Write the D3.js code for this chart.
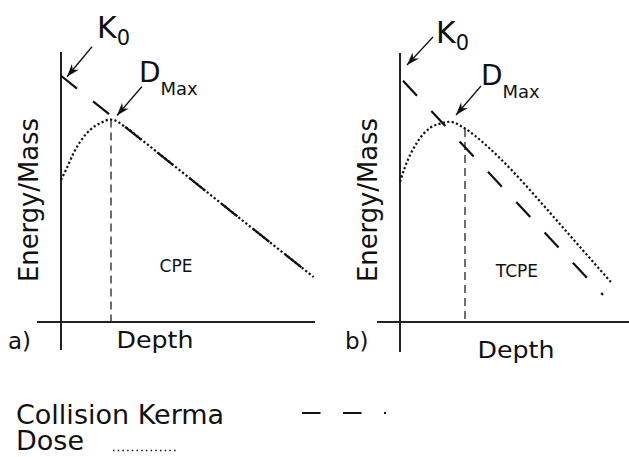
<!DOCTYPE html>
<html>
<head>
<meta charset="utf-8">
<script src="https://cdn.jsdelivr.net/npm/d3@7"></script>
<style>
  body { margin: 0; background: #fff; }
  text { font-family: "DejaVu Sans", sans-serif; fill: #111; }
</style>
</head>
<body>
<div id="graph"></div>
<script>
// depth / energy-per-mass values (arbitrary units)
const depthA = [0, 0.23, 0.5, 0.76, 1.16, 1.56, 2.0, 2.63, 3.3, 3.9, 5, 6, 7, 8, 9, 10.1];
const doseA  = [5.68, 6.15, 6.75, 7.2, 7.68, 7.95, 8.1, 7.76, 7.23, 6.75, 5.87, 5.07, 4.27, 3.47, 2.68, 1.8];
const kermaDepthA = [0, 10.1];
const kermaA      = [9.85, 1.8];

const depthB = [0, 0.2, 0.67, 1.2, 1.67, 2.0, 2.5, 3.0, 3.5, 4.0, 4.5, 5.0, 5.5, 6.0, 6.5, 7.0, 7.5, 8.0, 8.47];
const doseB  = [5.6, 6.2, 7.16, 7.76, 7.95, 8.01, 7.8, 7.45, 7.02, 6.55, 6.04, 5.5, 4.94, 4.37, 3.8, 3.23, 2.66, 2.09, 1.56];
const kermaDepthB = [0, 8.12];
const kermaB      = [9.78, 1.08];

const dmaxDepth = [2.0, 2.6];
const dmaxDose  = [8.1, 7.72];

const panelLabels = ["a)", "b)"];
const regionLabels = ["CPE", "TCPE"];
const legendLabels = ["Collision Kerma", "Dose"];

const W = 629, H = 457;

const svg = d3.select("#graph")
    .append("svg")
        .attr("width", W)
        .attr("height", H);

svg.append("defs").append("marker")
    .attr("id", "head")
    .attr("markerUnits", "userSpaceOnUse")
    .attr("viewBox", "-14 -6 16 12")
    .attr("markerWidth", 16)
    .attr("markerHeight", 12)
    .attr("refX", 0)
    .attr("refY", 0)
    .attr("orient", "auto")
  .append("path")
    .attr("d", "M0,0 L-13,-4.5 L-9,0 L-13,4.5 Z")
    .attr("fill", "#111");

const y = d3.scaleLinear().domain([0, 10]).range([322, 72]);

const panels = [
  {x: d3.scaleLinear().domain([0, 10]).range([61, 311]),
   depth: depthA, dose: doseA, kd: kermaDepthA, k: kermaA,
   xAxis: [-0.96, 10.16], yAxis: [-1.12, 10.8],
   kDash: "20.5,20.5", kOff: 0,
   label: [8, 349], region: [176, 272], depthText: [155, 348],
   k0: {tip: [6, 1], tail: [31, -29], txt: [97, 38]},
   dm: {tip: [6, -4], tail: [31, -33], txt: [139, 82]}},
  {x: d3.scaleLinear().domain([0, 10]).range([400, 650]),
   depth: depthB, dose: doseB, kd: kermaDepthB, k: kermaB,
   xAxis: [-0.92, 9.2], yAxis: [-1.2, 10.76],
   kDash: "20.5,21", kOff: 37.1,
   label: [345, 349], region: [517, 277], depthText: [516, 358],
   k0: {tip: [7, -12.5], tail: [33, -40.5], txt: [436, 43]},
   dm: {tip: [6, -6.75], tail: [31, -35.75], txt: [481, 85]}}
];

panels.forEach((p, i) => {
  const g = svg.append("g");
  const x = p.x;

  // axes (plain crossing lines, no ticks)
  g.append("line")
      .attr("x1", x(p.xAxis[0])).attr("x2", x(p.xAxis[1]))
      .attr("y1", y(0)).attr("y2", y(0))
      .attr("stroke", "#222").attr("stroke-width", 2);
  g.append("line")
      .attr("x1", x(0)).attr("x2", x(0))
      .attr("y1", y(p.yAxis[0])).attr("y2", y(p.yAxis[1]))
      .attr("stroke", "#222").attr("stroke-width", 2);

  // Dmax marker
  g.append("line")
      .attr("x1", x(dmaxDepth[i])).attr("x2", x(dmaxDepth[i]))
      .attr("y1", y(dmaxDose[i])).attr("y2", y(0))
      .attr("stroke", "#222").attr("stroke-width", 1.3)
      .attr("stroke-dasharray", "8,5");

  const line = d3.line()
      .x(d => x(d[0]))
      .y(d => y(d[1]))
      .curve(d3.curveMonotoneX);

  g.append("path")
      .datum(d3.zip(p.depth, p.dose))
      .attr("fill", "none")
      .attr("stroke", "#111")
      .attr("stroke-width", 2.2)
      .attr("stroke-dasharray", "2.2,2.3")
      .attr("d", line);

  g.append("path")
      .datum(d3.zip(p.kd, p.k))
      .attr("fill", "none")
      .attr("stroke", "#111")
      .attr("stroke-width", 2.2)
      .attr("stroke-dasharray", p.kDash)
      .attr("stroke-dashoffset", p.kOff)
      .attr("d", line);

  // annotations
  const k0 = [x(p.kd[0]), y(p.k[0])];
  const peak = [x(p.depth[p.dose.indexOf(d3.max(p.dose))]), y(d3.max(p.dose))];
  [[k0, p.k0], [peak, p.dm]].forEach(([pt, a]) => {
    g.append("line")
        .attr("x1", pt[0] + a.tail[0]).attr("y1", pt[1] + a.tail[1])
        .attr("x2", pt[0] + a.tip[0]).attr("y2", pt[1] + a.tip[1])
        .attr("stroke", "#111").attr("stroke-width", 1.3)
        .attr("marker-end", "url(#head)");
  });

  const kt = g.append("text")
      .attr("x", p.k0.txt[0]).attr("y", p.k0.txt[1])
      .attr("font-size", 30);
  kt.append("tspan").text("K");
  kt.append("tspan").attr("font-size", 21).attr("dy", 7).text("0");

  const dt = g.append("text")
      .attr("x", p.dm.txt[0]).attr("y", p.dm.txt[1])
      .attr("font-size", 28);
  dt.append("tspan").text("D");
  dt.append("tspan").attr("font-size", 18).attr("dy", 13).text("Max");

  g.append("text")
      .attr("transform", `translate(${x(0) - 23}, 200) rotate(-90)`)
      .attr("text-anchor", "middle")
      .attr("font-size", 27)
      .attr("textLength", 164)
      .attr("lengthAdjust", "spacingAndGlyphs")
      .text("Energy/Mass");

  g.append("text")
      .attr("x", p.depthText[0]).attr("y", p.depthText[1])
      .attr("text-anchor", "middle")
      .attr("font-size", 23)
      .attr("textLength", 77)
      .attr("lengthAdjust", "spacingAndGlyphs")
      .text("Depth");

  g.append("text")
      .attr("x", p.label[0]).attr("y", p.label[1])
      .attr("font-size", 23)
      .text(panelLabels[i]);

  g.append("text")
      .attr("x", p.region[0]).attr("y", p.region[1])
      .attr("text-anchor", "middle")
      .attr("font-size", 17)
      .text(regionLabels[i]);
});

// legend
const legend = svg.append("g");
legend.append("text").attr("x", 16).attr("y", 424).attr("font-size", 27).text(legendLabels[0]);
legend.append("text").attr("x", 16).attr("y", 450).attr("font-size", 27).text(legendLabels[1]);
legend.append("line")
    .attr("x1", 302).attr("x2", 386).attr("y1", 413).attr("y2", 413)
    .attr("stroke", "#111").attr("stroke-width", 2)
    .attr("stroke-dasharray", "18.5,22.5");
legend.append("line")
    .attr("x1", 113).attr("x2", 178).attr("y1", 450.5).attr("y2", 450.5)
    .attr("stroke", "#111").attr("stroke-width", 1.5)
    .attr("stroke-dasharray", "1.5,3.2");
</script>
</body>
</html>
